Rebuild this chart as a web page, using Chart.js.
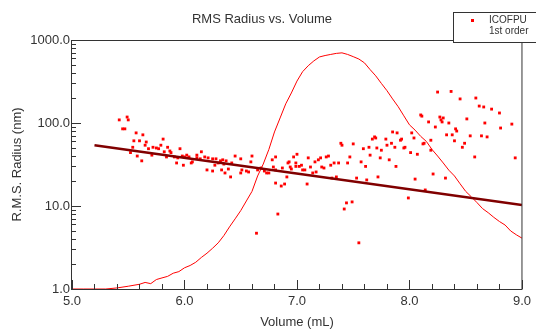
<!DOCTYPE html>
<html>
<head>
<meta charset="utf-8">
<script src="https://cdn.jsdelivr.net/npm/chart.js@4/dist/chart.umd.min.js"></script>
<style>
  body { margin: 0; background: #fff; }
  #wrap { width: 536px; height: 330px; }
</style>
</head>
<body>
<div id="wrap"><canvas id="rms_chart"></canvas></div>
<script>
// RMS radius points (volume mL, radius nm)
const pointVolume = [
  5.42, 5.49, 5.50, 5.45, 5.47, 5.57, 5.63, 5.55, 5.60, 5.66, 5.65, 5.81, 5.79, 5.54, 5.72, 5.75, 5.68, 5.77, 5.85, 5.82,
  5.87, 5.96, 5.52, 5.71, 5.58, 5.88, 5.91, 5.84, 5.94, 5.98, 6.02, 6.00, 6.04, 6.11, 6.15, 6.11, 6.18, 6.14, 5.62, 5.93,
  6.06, 5.99, 6.07, 6.20, 6.21, 6.25, 6.28, 6.32, 6.34, 6.37, 6.27, 6.30, 6.35, 6.42, 6.45, 6.50, 6.60, 6.59, 6.39, 6.25,
  6.33, 6.36, 6.41, 6.51, 6.55, 6.57, 6.65, 6.68, 6.71, 6.73, 6.75, 6.81, 6.78, 6.79, 6.81, 6.87, 6.92, 6.97, 6.99, 6.94,
  6.99, 6.91, 6.81, 6.86, 6.89, 6.83, 6.64, 6.50, 6.93, 7.00, 7.02, 7.04, 6.95, 7.05, 7.07, 7.10, 7.12, 7.16, 7.14, 7.17,
  7.19, 7.21, 7.22, 7.24, 7.26, 7.28, 7.30, 7.33, 7.37, 7.39, 7.40, 7.47, 7.50, 7.45, 7.57, 7.59, 7.61, 7.64, 7.65, 7.67,
  7.70, 7.71, 7.09, 7.31, 7.35, 7.53, 7.62, 7.72, 7.44, 7.49, 7.42, 7.55, 8.25, 8.10, 8.11, 8.17, 8.27, 8.29, 8.23, 8.02,
  7.85, 7.89, 7.69, 7.79, 7.84, 7.80, 7.92, 7.93, 8.04, 8.19, 8.13, 8.12, 7.75, 7.87, 7.96, 7.95, 8.19, 8.01, 8.07, 7.74,
  7.82, 7.88, 8.33, 8.21, 8.32, 8.05, 8.14, 7.99, 8.37, 8.45, 8.59, 8.62, 8.66, 8.73, 8.80, 8.28, 8.30, 8.35, 8.51, 8.67,
  8.91, 8.41, 8.42, 8.81, 8.38, 8.54, 8.64, 8.69, 8.40, 8.49, 8.47, 8.58, 8.94
];
const pointRadius = [
  109, 118, 109, 85, 85, 76, 72, 61, 61, 59, 54, 64, 54, 51, 51, 50, 49, 49, 51, 45,
  46, 49, 44, 41, 40, 44, 39, 39, 38, 40, 41, 39, 39, 41, 45, 38, 39, 37, 35, 33,
  33, 31, 34, 27.2, 38, 37, 37, 35, 36, 35, 31, 33, 32, 33, 40, 37, 40, 34, 27.9, 26.4,
  27.2, 25, 22.4, 27.2, 26.4, 25.7, 27.2, 28.7, 26.4, 25, 25, 39, 36, 29.5, 27.2, 28.7, 33, 39, 33, 29.5,
  30, 22.4, 18.9, 17.4, 18.4, 8.0, 4.7, 25, 34, 42, 30, 31, 27.9, 27.2, 27.2, 38, 29.5, 34, 25, 25.7,
  36, 38, 29.5, 28.7, 39, 40, 31, 33, 33, 57, 54, 39, 56, 33, 34, 49, 30, 51, 41, 64,
  66, 50, 18.4, 21.7, 22.4, 21.7, 20.6, 22.4, 10.9, 11.2, 9.2, 3.6, 236, 125, 121, 103, 118, 103, 89.5, 76,
  78, 76, 68, 64, 57, 54, 62, 64, 66, 62, 57, 56, 47, 51, 51, 50, 47, 44, 42, 38,
  36, 30, 72, 24.3, 21.7, 21.1, 15.6, 12.5, 240, 195, 200, 160, 156, 147, 132, 109, 115, 100, 112, 100,
  97, 85, 80, 87, 72, 70, 70, 68, 61, 57, 51, 39, 38
];

// concentration trace (drawn against the same axis)
const traceVolume = [
  5.0, 5.1, 5.2, 5.3, 5.4, 5.5, 5.6, 5.65, 5.7, 5.75, 5.8, 5.85, 5.9, 5.95, 6.0, 6.05, 6.1, 6.15, 6.2, 6.25,
  6.3, 6.35, 6.4, 6.45, 6.5, 6.55, 6.6, 6.65, 6.7, 6.75, 6.8, 6.85, 6.9, 6.95, 7.0, 7.05, 7.1, 7.15, 7.2, 7.25,
  7.3, 7.35, 7.4, 7.45, 7.5, 7.55, 7.6, 7.65, 7.7, 7.75, 7.8, 7.85, 7.9, 7.95, 8.0, 8.05, 8.1, 8.15, 8.2, 8.25,
  8.3, 8.35, 8.4, 8.45, 8.5, 8.55, 8.6, 8.65, 8.7, 8.75, 8.8, 8.85, 8.9, 8.95, 9.0
];
const traceSignal = [
  1.0, 1.0, 1.0, 1.0, 1.03, 1.08, 1.14, 1.2, 1.16, 1.3, 1.36, 1.42, 1.55, 1.62, 1.8, 1.92, 2.1, 2.4, 2.7, 3.1,
  3.6, 4.4, 5.6, 7.0, 8.8, 11.5, 15, 23, 32, 48, 78, 115, 170, 230, 320, 415, 490, 560, 625, 650,
  670, 690, 700, 670, 630, 590, 530, 440, 370, 300, 245, 195, 157, 122, 95, 82, 69, 60, 48, 40,
  33, 27, 23, 18.5, 15, 12.9, 11, 9.3, 8.3, 7.3, 6.5, 5.9, 5.0, 4.5, 4.1
];

// 1st order fit end points
const fitVolume = [5.2, 9.0];
const fitRadius = [54, 10.3];

const xTickValues = [5, 6, 7, 8, 9];
const xTickLabels = ['5.0', '6.0', '7.0', '8.0', '9.0'];
const yTickValues = [1, 10, 100, 1000];
const yTickLabels = ['1.0', '10.0', '100.0', '1000.0'];

const zip = (xs, ys) => xs.map((x, i) => ({ x: x, y: ys[i] }));

const FONT = 'Arial, "Liberation Sans", sans-serif';
const INK = '#333';

// frame, inside tick marks, title and legend box
const decorPlugin = {
  id: 'decor',
  afterDraw(chart) {
    const ctx = chart.ctx;
    const a = chart.chartArea;
    const xs = chart.scales.x, ys = chart.scales.y;
    ctx.save();
    ctx.strokeStyle = INK;
    ctx.lineWidth = 1;
    ctx.strokeRect(a.left - 0.5, a.top + 0.5, a.right - a.left + 0.5, a.bottom - a.top);

    ctx.beginPath();
    for (let v = 5; v <= 9.001; v += 0.2) {
      const px = Math.round(xs.getPixelForValue(v)) + 0.5;
      const major = Math.abs(v - Math.round(v)) < 0.01;
      ctx.moveTo(px, a.bottom);
      ctx.lineTo(px, a.bottom - (major ? 9 : 5));
    }
    [1, 10, 100].forEach(function(dec) {
      for (let m = 1; m <= 10; m++) {
        const py = Math.round(ys.getPixelForValue(m * dec)) + 0.5;
        const major = (m === 1 || m === 10);
        ctx.moveTo(a.left, py);
        ctx.lineTo(a.left + (major ? 9 : 4), py);
      }
    });
    ctx.stroke();

    // title
    ctx.fillStyle = INK;
    ctx.font = '13px ' + FONT;
    ctx.textAlign = 'center';
    ctx.textBaseline = 'middle';
    ctx.fillText('RMS Radius vs. Volume', 262, 19);

    // legend
    ctx.fillStyle = '#fff';
    ctx.fillRect(453, 12, 100, 31);
    ctx.strokeRect(453.5, 12.5, 100, 30);
    ctx.fillStyle = '#ff0000';
    ctx.fillRect(471, 19, 3, 3);
    ctx.fillStyle = INK;
    ctx.font = '10px ' + FONT;
    ctx.textAlign = 'left';
    ctx.fillText('ICOFPU', 489, 20);
    ctx.fillText('1st order', 489, 31);
    ctx.restore();
  }
};

const ctx = document.getElementById('rms_chart').getContext('2d');
new Chart(ctx, {
  type: 'scatter',
  data: {
    datasets: [
      {
        label: '1st order',
        data: zip(fitVolume, fitRadius),
        showLine: true,
        borderColor: '#800000',
        borderWidth: 2.5,
        pointRadius: 0,
        order: 0
      },
      {
        label: 'ICOFPU',
        data: zip(pointVolume, pointRadius),
        backgroundColor: '#ff0000',
        borderWidth: 0,
        pointStyle: 'rect',
        pointRadius: 2,
        order: 1
      },
      {
        label: 'trace',
        data: zip(traceVolume, traceSignal),
        showLine: true,
        borderColor: '#ff0000',
        borderWidth: 1,
        pointRadius: 0,
        order: 2
      }
    ]
  },
  options: {
    responsive: true,
    maintainAspectRatio: false,
    animation: false,
    layout: { padding: { top: 40, right: 12, left: 0, bottom: 0 } },
    plugins: {
      legend: { display: false },
      title: { display: false },
      tooltip: { enabled: false }
    },
    scales: {
      x: {
        type: 'linear',
        min: 5,
        max: 9,
        afterFit: function(s) { s.height = 41; },
        afterBuildTicks: function(s) { s.ticks = xTickValues.map(v => ({ value: v })); },
        grid: { display: false, drawTicks: false },
        border: { display: false },
        ticks: {
          padding: 5,
          color: INK,
          font: { family: FONT, size: 13 },
          callback: function(v, i) { return xTickLabels[i]; }
        },
        title: {
          display: true,
          text: 'Volume (mL)',
          color: INK,
          font: { family: FONT, size: 13 },
          padding: { top: 0, bottom: 0 }
        }
      },
      y: {
        type: 'logarithmic',
        min: 1,
        max: 1000,
        afterFit: function(s) { s.width = 72; },
        afterBuildTicks: function(s) { s.ticks = yTickValues.map(v => ({ value: v })); },
        grid: { display: false, drawTicks: false },
        border: { display: false },
        ticks: {
          padding: 2,
          color: INK,
          font: { family: FONT, size: 13 },
          callback: function(v, i) { return yTickLabels[i]; }
        },
        title: {
          display: true,
          text: 'R.M.S. Radius (nm)',
          color: INK,
          font: { family: FONT, size: 13 },
          padding: { top: 10, bottom: 0 }
        }
      }
    }
  },
  plugins: [decorPlugin]
});
</script>
</body>
</html>
